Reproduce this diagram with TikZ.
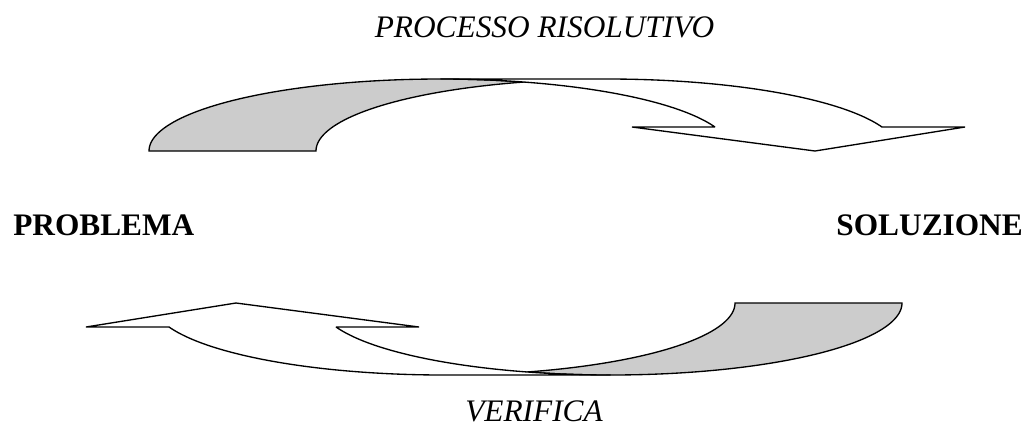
\documentclass[tikz,border=0pt]{standalone}
\usepackage{fontspec}
\setmainfont{Liberation Serif}
\definecolor{backgray}{HTML}{CCCCCC}
\newcommand{\drawcurvedarrow}{%
  % back (shaded) band
  \draw[backband] (149,151)
    -- plot[domain=180:286.65, samples=90, variable=\t] ({440.3+291.3*cos(\t)},{151+72*sin(\t)})
    -- plot[domain=253.35:180, samples=90, variable=\t] ({607.3+291.3*cos(\t)},{151+72*sin(\t)})
    -- cycle;
  % front band with arrow head
  \draw[frontband] (815,151) -- (632,127) -- (715,127)
    -- plot[domain=340.53:270, samples=90, variable=\t] ({440.3+291.3*cos(\t)},{151+72*sin(\t)})
    -- (607.3,79)
    -- plot[domain=270:340.53, samples=90, variable=\t] ({607.3+291.3*cos(\t)},{151+72*sin(\t)})
    -- (965,127) -- cycle;
}
\begin{document}
\begin{tikzpicture}[x=0.75pt,y=-0.75pt,
  band/.style={draw=black, line width=1pt, line join=miter},
  backband/.style={band, fill=backgray},
  frontband/.style={band, fill=white},
  lbl/.style={inner sep=0pt, font=\fontsize{23.5}{28}\selectfont}]
\useasboundingbox[fill=white] (0,0) rectangle (1030,426);
\drawcurvedarrow
\begin{scope}[rotate around={180:(525.5,227)}]
\drawcurvedarrow
\end{scope}
\node[lbl, anchor=base] (proc) at (544.5,37) {\itshape PROCESSO RISOLUTIVO};
\node[lbl, anchor=base] (verif) at (534,421) {\itshape VERIFICA};
\node[lbl, anchor=base west] (prob) at (13,235) {\bfseries PROBLEMA};
\node[lbl, anchor=base east] (sol) at (1023,235) {\bfseries SOLUZIONE};
\end{tikzpicture}
\end{document}
